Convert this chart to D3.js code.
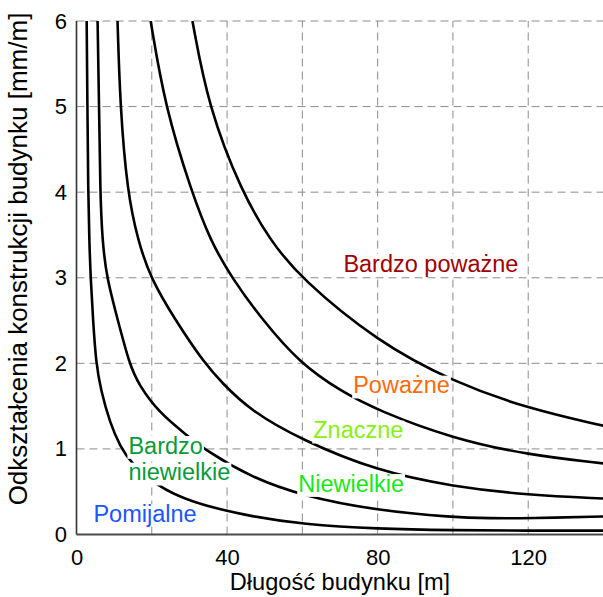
<!DOCTYPE html>
<html>
<head>
    <meta charset="utf-8" />
    <script src="https://d3js.org/d3.v7.min.js"></script>
    <style>
        body { margin: 0; background: #fff; }
        svg text { font-family: "Liberation Sans", Arial, sans-serif; }
    </style>
</head>
<body>
    <svg width="603" height="597"></svg>

    <script>
        // tick values
        var xTicks = [0, 40, 80, 120];
        var yTicks = [0, 1, 2, 3, 4, 5, 6];
        var xGrid = [20, 40, 60, 80, 100, 120];
        var yGrid = [1, 2, 3, 4, 5, 6];

        // boundary curves, [length m, deformation mm/m]
        var pomijalneLine = [[2.7, 6], [2.9, 5], [3.1, 4], [3.4, 3.44], [3.75, 3.0], [4.4, 2.5], [5.2, 2.0],
            [6.4, 1.7], [8.9, 1.3], [11.6, 1.03], [14.5, 0.835], [21.3, 0.57], [30, 0.38], [46.1, 0.21],
            [60, 0.12], [80, 0.065], [100, 0.05], [120, 0.045], [140, 0.045]];
        var bardzoNiewielkieLine = [[5.6, 6], [6.0, 5], [6.3, 4], [6.85, 3.44], [8.0, 3.0], [11.0, 2.5], [14.0, 2.0],
            [16.5, 1.75], [22, 1.42], [29.3, 1.16], [34.6, 0.975], [46.1, 0.675], [60, 0.45], [80, 0.28],
            [100, 0.2], [110, 0.19], [120, 0.19], [140, 0.21]];
        var niewielkieLine = [[10.9, 6], [11.6, 5], [13.5, 4], [16.3, 3.44], [19.6, 3.0], [26.3, 2.5], [34.0, 2.0],
            [38.5, 1.78], [46.1, 1.45], [60, 1.1], [80, 0.74], [100, 0.56], [120, 0.46], [140, 0.42]];
        var znaczneLine = [[19.7, 6], [23.5, 5], [30.6, 4], [35.5, 3.44], [41.2, 3.0], [49.5, 2.5], [59.4, 2.0],
            [70, 1.68], [80, 1.45], [100, 1.12], [120, 0.93], [140, 0.83]];
        var powazneLine = [[30.8, 6], [35, 5], [43.9, 4], [51.4, 3.44], [59.4, 3.0], [80, 2.25], [100, 1.785],
            [120, 1.47], [140, 1.27]];

        var curves = [pomijalneLine, bardzoNiewielkieLine, niewielkieLine, znaczneLine, powazneLine];

        // damage categories
        var categories = ["Pomijalne", "Bardzo\nniewielkie", "Niewielkie", "Znaczne", "Poważne", "Bardzo poważne"];
        var catColors = ["#1a55ff", "#0a9a3a", "#18e818", "#88f012", "#ff6a0a", "#a00000"];

        var svg = d3.select("svg");
        var plotL = 76.5, plotR = 603.5, plotT = 21, plotB = 534.5;

        var x = d3.scaleLinear().domain([0, 140]).range([plotL, plotR]);
        var y = d3.scaleLinear().domain([0, 6]).range([plotB, plotT]);

        // grid
        svg.append("g").selectAll("line").data(xGrid).enter().append("line")
            .attr("x1", function (d) { return x(d); }).attr("x2", function (d) { return x(d); })
            .attr("y1", y(0)).attr("y2", y(6))
            .attr("stroke", "#8c8c8c").attr("stroke-width", 1).attr("stroke-dasharray", "8,5");
        svg.append("g").selectAll("line").data(yGrid).enter().append("line")
            .attr("y1", function (d) { return y(d); }).attr("y2", function (d) { return y(d); })
            .attr("x1", x(0)).attr("x2", x(140))
            .attr("stroke", "#8c8c8c").attr("stroke-width", 1).attr("stroke-dasharray", "8,5");

        // curves
        svg.append("clipPath").attr("id", "clip").append("rect")
            .attr("x", plotL).attr("y", plotT).attr("width", plotR - plotL).attr("height", plotB - plotT);

        var line = d3.line()
            .x(function (d) { return x(d[0]); })
            .y(function (d) { return y(d[1]); })
            .curve(d3.curveBasis);

        svg.append("g").attr("clip-path", "url(#clip)")
            .selectAll("path").data(curves).enter().append("path")
            .attr("d", line)
            .attr("fill", "none").attr("stroke", "#000").attr("stroke-width", 2.6);

        // category labels (anchor = start of first baseline, in data units)
        var labelPos = [[4.5, 0.15], [13.8, 0.945], [58.9, 0.5], [62.9, 1.124], [73.5, 1.65], [70.9, 3.07]];
        var fs = 23.5;
        var lab = svg.append("g");
        categories.forEach(function (c, i) {
            c.split("\n").forEach(function (t, j) {
                var bx = x(labelPos[i][0]), by = y(labelPos[i][1]) + j * 26.7;
                var bg = lab.append("rect").attr("fill", "#fff");
                var tx = lab.append("text")
                    .attr("x", bx).attr("y", by)
                    .attr("font-size", fs + "px")
                    .attr("fill", catColors[i])
                    .text(t);
                var w = tx.node().getComputedTextLength();
                bg.attr("x", bx - 1).attr("y", by - 0.75 * fs).attr("width", w + 2).attr("height", 0.97 * fs);
            });
        });

        // axes
        var gx = svg.append("g").attr("transform", "translate(0," + plotB + ")")
            .call(d3.axisBottom(x).tickValues(xTicks).tickFormat(d3.format("d")).tickSize(0).tickPadding(15));
        var gy = svg.append("g").attr("transform", "translate(" + plotL + ",0)")
            .call(d3.axisLeft(y).tickValues(yTicks).tickFormat(d3.format("d")).tickSize(0).tickPadding(9.5));
        [gx, gy].forEach(function (g) {
            g.select(".domain").remove();
            g.selectAll("text").attr("font-size", "22px").attr("fill", "#000")
                .attr("font-family", "Liberation Sans, Arial, sans-serif");
        });

        svg.append("line").attr("x1", plotL).attr("x2", plotL).attr("y1", plotT).attr("y2", plotB)
            .attr("stroke", "#333").attr("stroke-width", 1.6);
        svg.append("line").attr("x1", plotL).attr("x2", plotR).attr("y1", plotB).attr("y2", plotB)
            .attr("stroke", "#4a4a4a").attr("stroke-width", 2);

        // axis titles
        svg.append("text")
            .attr("x", (plotL + plotR) / 2).attr("y", 590)
            .attr("text-anchor", "middle").attr("font-size", "23.6px")
            .text("Długość budynku [m]");

        svg.append("text")
            .attr("transform", "translate(27,259) rotate(-90)")
            .attr("text-anchor", "middle").attr("font-size", "26px")
            .text("Odkształcenia konstrukcji budynku [mm/m]");
    </script>
</body>
</html>
